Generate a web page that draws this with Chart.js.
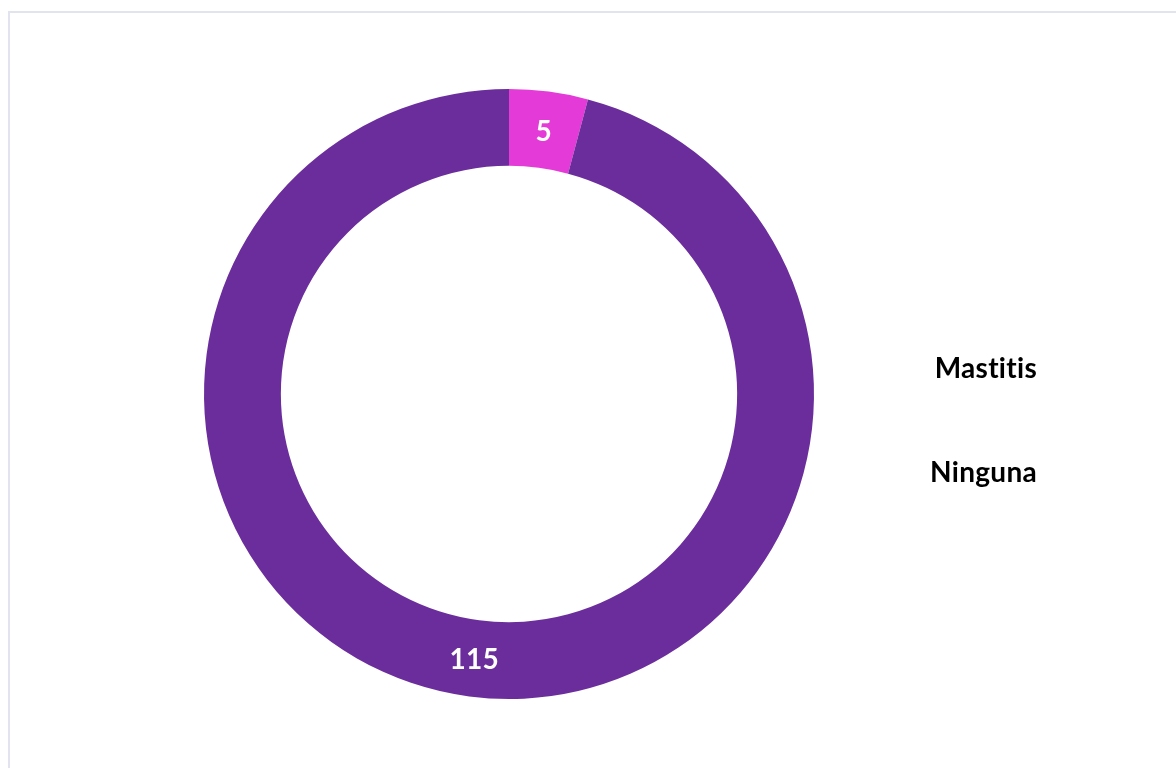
<!DOCTYPE html>
<html>
<head>
<meta charset="utf-8">
<script src="https://cdn.jsdelivr.net/npm/chart.js@4.4.1/dist/chart.umd.min.js"></script>
<style>
  html, body { margin: 0; padding: 0; background: #fff; overflow: hidden; }
  #marco {
    position: absolute; left: 8px; top: 11px; width: 1300px; height: 900px;
    border: 2px solid #e1e4ee; box-sizing: border-box;
  }
  #lienzo { position: absolute; left: 0; top: 0; width: 1176px; height: 768px; }
</style>
</head>
<body>
<div id="marco"></div>
<div id="lienzo"><canvas id="grafico"></canvas></div>
<script>
const categorias = ['Mastitis', 'Ninguna'];
const valores = [5, 115];
const colores = ['#e43ad7', '#6b2d9c'];

// etiquetas blancas en el centro de cada segmento
const etiquetasValor = {
  id: 'etiquetasValor',
  afterDatasetsDraw(chart) {
    const ctx = chart.ctx;
    const meta = chart.getDatasetMeta(0);
    ctx.save();
    ctx.fillStyle = '#ffffff';
    ctx.font = 'bold 28px Lato, "Open Sans", sans-serif';
    ctx.letterSpacing = '0.3px';
    ctx.textAlign = 'center';
    ctx.textBaseline = 'middle';
    meta.data.forEach((arco, i) => {
      const p = arco.tooltipPosition();
      ctx.fillText(String(chart.data.datasets[0].data[i]), p.x, p.y + 2);
    });
    ctx.restore();
  }
};

// leyenda solo con texto, alineada a la derecha
const leyendaTexto = {
  id: 'leyendaTexto',
  afterDraw(chart) {
    const ctx = chart.ctx;
    ctx.save();
    ctx.fillStyle = '#000000';
    ctx.font = 'bold 28px Lato, "Open Sans", sans-serif';
    ctx.letterSpacing = '0.3px'; // evita la ligadura "ti"
    ctx.textAlign = 'right';
    ctx.textBaseline = 'alphabetic';
    chart.data.labels.forEach((txt, i) => {
      ctx.fillText(txt, 1037, 378 + i * 104);
    });
    ctx.restore();
  }
};

new Chart(document.getElementById('grafico'), {
  type: 'doughnut',
  data: {
    labels: categorias,
    datasets: [{
      data: valores,
      backgroundColor: colores,
      borderWidth: 0
    }]
  },
  options: {
    responsive: true,
    maintainAspectRatio: false,
    animation: false,
    cutout: '74.8%',
    layout: { padding: { left: 204, top: 89, right: 362, bottom: 69 } },
    plugins: {
      legend: { display: false },
      tooltip: { enabled: false }
    }
  },
  plugins: [etiquetasValor, leyendaTexto]
});
</script>
</body>
</html>
